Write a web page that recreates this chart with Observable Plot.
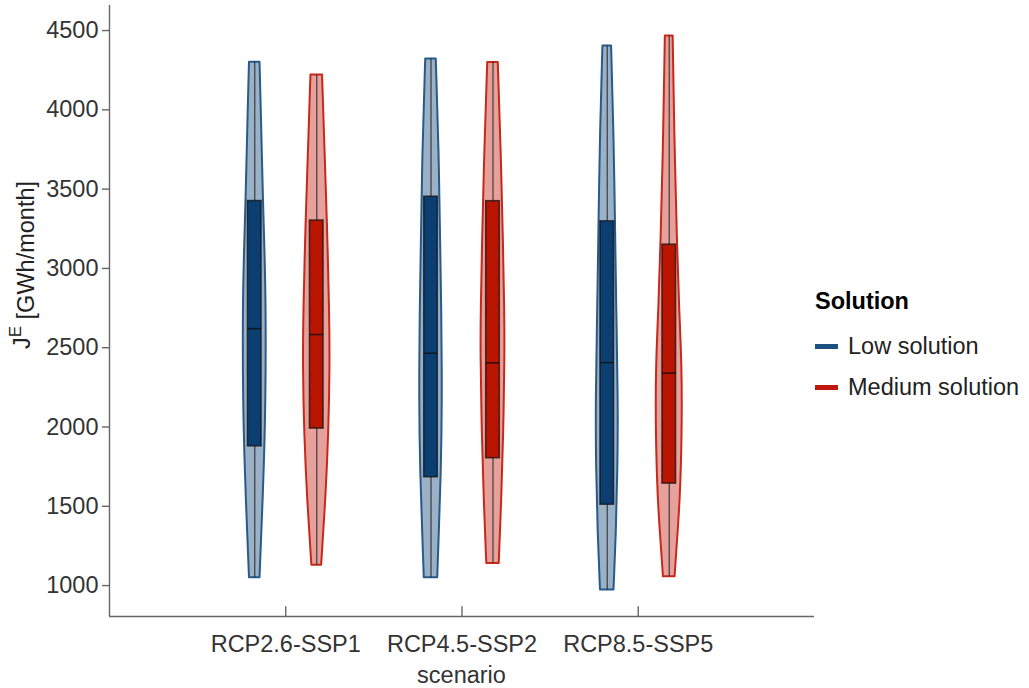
<!DOCTYPE html>
<html>
<head>
<meta charset="utf-8">
<script src="https://cdn.jsdelivr.net/npm/d3@7"></script>
<script src="https://cdn.jsdelivr.net/npm/@observablehq/plot@0.6"></script>
<style>
  html, body { margin: 0; padding: 0; background: #fff; }
  #wrap { position: relative; width: 1029px; height: 688px; font-family: "Liberation Sans", Arial, sans-serif; }
  #legend { position: absolute; left: 815px; top: 288px; color: #000; font-size: 23.5px; }
  #legend .title { font-weight: bold; margin-bottom: 11px; }
  #legend .row { display: flex; align-items: center; height: 41px; color: #222; }
  #legend .sw { width: 23px; height: 5px; margin-right: 10px; }
</style>
</head>
<body>
<div id="wrap"></div>
<script>
// Scenarios on the x axis and the two solution levels
const scenarios = ["RCP2.6-SSP1", "RCP4.5-SSP2", "RCP8.5-SSP5"];
const solutions = ["Low solution", "Medium solution"];
const yTicks = [1000, 1500, 2000, 2500, 3000, 3500, 4000, 4500];

// Box statistics per scenario (min, Q1, median, Q3, max), GWh/month
const lowMin = [1050, 1050, 972];
const lowQ1 = [1878, 1683, 1510];
const lowMedian = [2620, 2465, 2406];
const lowQ3 = [3425, 3452, 3297];
const lowMax = [4300, 4320, 4403];

const medMin = [1128, 1140, 1055];
const medQ1 = [1990, 1803, 1643];
const medMedian = [2583, 2404, 2340];
const medQ3 = [3302, 3424, 3150];
const medMax = [4220, 4298, 4466];

// Kernel density profiles (value, relative density) for each violin
const lowDensity1 = [[1050, 0.39], [1429, 0.57], [1744, 0.71], [2167, 0.84], [2734, 0.86], [3113, 0.76], [3428, 0.64], [3951, 0.50], [4300, 0.39]];
const lowDensity2 = [[1050, 0.50], [1328, 0.61], [1681, 0.76], [2167, 0.86], [2734, 0.80], [3113, 0.72], [3743, 0.61], [4320, 0.39]];
const lowDensity3 = [[972, 0.50], [1328, 0.68], [1744, 0.80], [2167, 0.83], [2753, 0.70], [3296, 0.61], [3869, 0.50], [4403, 0.32]];
const medDensity1 = [[1128, 0.36], [1536, 0.68], [1959, 0.90], [2375, 1.00], [2734, 0.96], [3302, 0.79], [3743, 0.61], [4220, 0.43]];
const medDensity2 = [[1140, 0.46], [1536, 0.65], [1959, 0.80], [2482, 0.90], [2734, 0.87], [3113, 0.79], [3743, 0.61], [4298, 0.39]];
const medDensity3 = [[1055, 0.43], [1221, 0.56], [1536, 0.83], [1959, 0.97], [2375, 0.97], [2753, 0.76], [3150, 0.61], [3869, 0.40], [4466, 0.29]];

const colors = {
  "Low solution": { box: "#0b3f72", fill: "#9bb1c6", stroke: "#285a8b", key: "#1c4f82" },
  "Medium solution": { box: "#b81400", fill: "#e6a19c", stroke: "#c8281a", key: "#c0190c" }
};

// Layout in x units: scenario i sits at i + 1, the two solutions are dodged either side
const pxPerUnit = (814 - 109) / 4;
const dodge = 31 / pxPerUnit;
const halfWidthPx = 13.5;
const boxHalf = 6.8 / pxPerUnit;
const yBottom = 805;
const axisColor = "#666";
const fontSize = 23.5;

const stats = [
  { solution: "Low solution", min: lowMin, q1: lowQ1, med: lowMedian, q3: lowQ3, max: lowMax, dens: [lowDensity1, lowDensity2, lowDensity3], side: -1 },
  { solution: "Medium solution", min: medMin, q1: medQ1, med: medMedian, q3: medQ3, max: medMax, dens: [medDensity1, medDensity2, medDensity3], side: 1 }
];

const boxes = [];
const violins = [];
for (const s of stats) {
  scenarios.forEach((sc, i) => {
    const cx = i + 1 + s.side * dodge;
    boxes.push({ solution: s.solution, scenario: sc, cx, min: s.min[i], q1: s.q1[i], med: s.med[i], q3: s.q3[i], max: s.max[i] });
    violins.push({
      solution: s.solution,
      points: s.dens[i].map(([v, d]) => ({ v, x1: cx - d * halfWidthPx / pxPerUnit, x2: cx + d * halfWidthPx / pxPerUnit }))
    });
  });
}

const marks = [];
for (const vio of violins) {
  const c = colors[vio.solution];
  marks.push(Plot.areaX(vio.points, {
    y: "v", x1: "x1", x2: "x2", curve: "basis",
    fill: c.fill, stroke: c.stroke, strokeWidth: 2
  }));
}
marks.push(
  // whiskers spanning the full range
  Plot.ruleX(boxes, { x: "cx", y1: "min", y2: "max", stroke: "#222", strokeOpacity: 0.75, strokeWidth: 1.3 }),
  // interquartile boxes
  Plot.rect(boxes, {
    x1: d => d.cx - boxHalf, x2: d => d.cx + boxHalf, y1: "q1", y2: "q3",
    fill: d => colors[d.solution].box, stroke: "#111", strokeOpacity: 0.75, strokeWidth: 1.5
  }),
  // medians
  Plot.ruleY(boxes, { y: "med", x1: d => d.cx - boxHalf, x2: d => d.cx + boxHalf, stroke: "#111", strokeOpacity: 0.85, strokeWidth: 1.5 }),
  // axes
  Plot.axisY(yTicks, { tickSize: 7, tickPadding: 4, fontSize, fill: "#333", stroke: axisColor, strokeWidth: 1.4, tickFormat: d3.format("d"), label: null }),
  Plot.axisX([1, 2, 3], { tickSize: 0, tickPadding: 19, fontSize, fill: "#333", tickFormat: d => scenarios[d - 1], label: null }),
  // inward ticks on the scenario axis
  Plot.ruleX([1, 2, 3], { x: d => d, y1: yBottom, y2: yBottom + 62, stroke: axisColor, strokeWidth: 1.4 }),
  Plot.ruleX([0], { stroke: axisColor, strokeWidth: 1.4 }),
  Plot.ruleY([yBottom], { stroke: axisColor, strokeWidth: 1.4 })
);

const chart = Plot.plot({
  width: 1029,
  height: 688,
  marginLeft: 109,
  marginRight: 215,
  marginTop: 5,
  marginBottom: 72,
  style: { fontFamily: "Liberation Sans, Arial, sans-serif", fontSize: `${fontSize}px`, color: "#333", background: "#fff" },
  x: { type: "linear", domain: [0, 4], axis: null },
  y: { type: "linear", domain: [yBottom, 4658], axis: null },
  marks
});

const svg = d3.select(chart);

// y axis title with a superscript
const yTitle = svg.append("text")
  .attr("transform", "translate(30,265) rotate(-90)")
  .attr("text-anchor", "middle")
  .attr("font-size", fontSize)
  .attr("fill", "#222");
yTitle.append("tspan").text("J");
yTitle.append("tspan").attr("dy", "-0.55em").attr("font-size", 17).text("E");
yTitle.append("tspan").attr("dy", "0.55em").text(" [GWh/month]");

// x axis title
svg.append("text")
  .attr("x", 109 + 2 * pxPerUnit)
  .attr("y", 683)
  .attr("text-anchor", "middle")
  .attr("font-size", fontSize)
  .attr("fill", "#333")
  .text("scenario");

const wrap = document.getElementById("wrap");
wrap.appendChild(chart);

// solution legend on the right
const legend = document.createElement("div");
legend.id = "legend";
legend.innerHTML = `<div class="title">Solution</div>` +
  solutions.map(s => `<div class="row"><span class="sw" style="background:${colors[s].key}"></span>${s}</div>`).join("");
wrap.appendChild(legend);
</script>
</body>
</html>
